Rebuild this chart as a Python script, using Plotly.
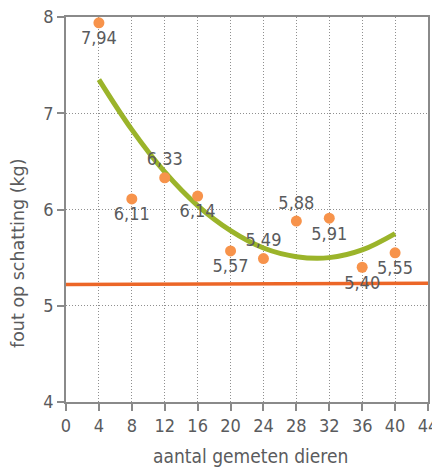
import plotly.graph_objects as go

# Data
animals = [4, 8, 12, 16, 20, 24, 28, 32, 36, 40]
error_kg = [7.94, 6.11, 6.33, 6.14, 5.57, 5.49, 5.88, 5.91, 5.40, 5.55]
label_pos = ["bottom center", "bottom center", "top center", "bottom center", "bottom center",
             "top center", "top center", "bottom center", "bottom center", "bottom center"]

# Quadratic trend (green) read at each x
trend_x = [4, 8, 12, 16, 20, 24, 28, 32, 36, 40]
trend_y = [7.35, 6.83, 6.39, 6.04, 5.78, 5.60, 5.51, 5.50, 5.58, 5.75]

# Reference level (orange line)
ref_x = [0, 44]
ref_y = [5.22, 5.235]

x_ticks = [0, 4, 8, 12, 16, 20, 24, 28, 32, 36, 40, 44]
y_ticks = [4, 5, 6, 7, 8]

TXT = "#5a5b5d"
NUM_FONT = "DejaVu Sans Condensed, Liberation Sans Narrow, sans-serif"

fig = go.Figure()

fig.add_trace(go.Scatter(
    x=ref_x, y=ref_y, mode="lines",
    line=dict(color="#ec6627", width=3.5),
    hoverinfo="skip", showlegend=False))

fig.add_trace(go.Scatter(
    x=trend_x, y=trend_y, mode="lines",
    line=dict(color="#9bb42a", width=5, shape="spline"),
    hoverinfo="skip", showlegend=False))

fig.add_trace(go.Scatter(
    x=animals, y=error_kg, mode="markers+text",
    marker=dict(color="#f7934b", size=11),
    text=[f"{v:.2f}".replace(".", ",") for v in error_kg],
    textposition=label_pos,
    textfont=dict(family=NUM_FONT, size=18, color=TXT),
    cliponaxis=False, showlegend=False))

axis_common = dict(
    showline=True, linecolor="#8a8a8a", linewidth=1.5, mirror=True,
    showgrid=True, gridcolor="#8f8f8f", griddash="1px,2px", gridwidth=1,
    ticks="outside", ticklen=7, tickcolor="#8a8a8a", tickwidth=1.5,
    tickfont=dict(family=NUM_FONT, size=18, color=TXT),
    ticklabeloverflow="allow",
    zeroline=False, automargin=False,
)

fig.update_xaxes(range=[0, 44], tickvals=x_ticks, **axis_common)
fig.update_yaxes(range=[4, 8], tickvals=y_ticks, **axis_common)

fig.add_annotation(
    text="aantal gemeten dieren", xref="paper", yref="paper",
    x=0.511, y=-0.14, xanchor="center", yanchor="middle", showarrow=False,
    font=dict(family=NUM_FONT, size=19, color=TXT))
fig.add_annotation(
    text="fout op schatting (kg)", xref="paper", yref="paper",
    x=-0.1326, y=0.387, xanchor="center", yanchor="middle",
    textangle=-90, showarrow=False,
    font=dict(family="DejaVu Sans, sans-serif", size=17.5, color=TXT))

# the page body adds an 8px offset, so the figure is 8px smaller
fig.update_layout(
    width=432, height=462,
    margin=dict(l=58, r=12, t=9, b=68, autoexpand=False),
    plot_bgcolor="white", paper_bgcolor="white",
    showlegend=False,
)

fig.write_html("out.html")
